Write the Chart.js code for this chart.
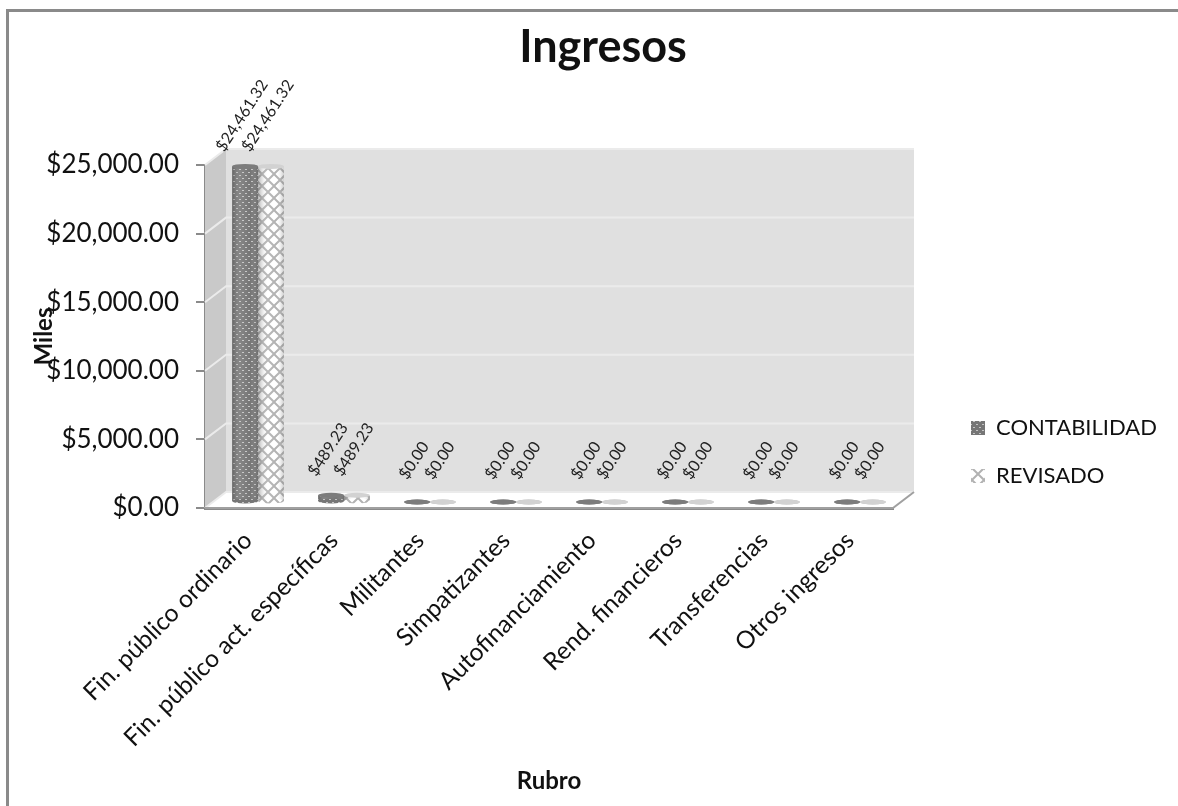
<!DOCTYPE html>
<html>
<head>
<meta charset="utf-8">
<title>Ingresos</title>
<script src="https://cdn.jsdelivr.net/npm/chart.js@4"></script>
<style>
html, body { margin: 0; padding: 0; background: #fff; }
canvas { display: block; }
</style>
</head>
<body>
<canvas id="ingresosChart" width="1178" height="806"></canvas>
<script>
var categories = ['Fin. público ordinario', 'Fin. público act. específicas', 'Militantes', 'Simpatizantes',
    'Autofinanciamiento', 'Rend. financieros', 'Transferencias', 'Otros ingresos'];
var contabilidad = [24461.32, 489.23, 0, 0, 0, 0, 0, 0];
var revisado = [24461.32, 489.23, 0, 0, 0, 0, 0, 0];
var seriesNames = ['CONTABILIDAD', 'REVISADO'];
var yTicks = [0, 5000, 10000, 15000, 20000, 25000];

var FONT = 'Lato, Carlito, sans-serif';
var DEPTH_X = 21, DEPTH_Y = 16;   // back wall offset
var BAR_X = 10, BAR_Y = -6;       // bars stand in the middle of the floor

function money(v) {
    return '$' + v.toLocaleString('en-US', { minimumFractionDigits: 2, maximumFractionDigits: 2 });
}

// fine dark mesh
function darkPattern(ctx) {
    var c = document.createElement('canvas');
    c.width = 6; c.height = 6;
    var p = c.getContext('2d');
    p.fillStyle = '#767676';
    p.fillRect(0, 0, 6, 6);
    p.fillStyle = '#c4c4c4';
    p.fillRect(1, 1, 2, 1);
    p.fillRect(4, 4, 2, 1);
    return ctx.createPattern(c, 'repeat');
}

// wide white lattice
function lightPattern(ctx) {
    var c = document.createElement('canvas');
    c.width = 12; c.height = 12;
    var p = c.getContext('2d');
    p.fillStyle = '#ffffff';
    p.fillRect(0, 0, 12, 12);
    p.strokeStyle = '#b2b2b2';
    p.lineWidth = 2;
    p.beginPath();
    p.moveTo(0, 0); p.lineTo(12, 12);
    p.moveTo(12, 0); p.lineTo(0, 12);
    p.stroke();
    return ctx.createPattern(c, 'repeat');
}

var framePlugin = {
    id: 'frame',
    afterLayout: function (chart) {
        var lg = chart.legend;
        lg.left = 945; lg.right = 1178;
        lg.top = 391; lg.bottom = 620;
        chart.titleBlock.left = 403;
        chart.titleBlock.right = 803;
    },
    beforeDraw: function (chart) {
        var c = chart.ctx;
        c.save();
        c.fillStyle = '#ffffff';
        c.fillRect(0, 0, chart.width, chart.height);
        c.strokeStyle = '#8a8a8a';
        c.lineWidth = 3;
        c.beginPath();
        c.moveTo(7.5, chart.height);
        c.lineTo(7.5, 10.5);
        c.lineTo(chart.width, 10.5);
        c.stroke();
        c.restore();
    },
    beforeDatasetsDraw: function (chart) {
        var c = chart.ctx, a = chart.chartArea, y = chart.scales.y;
        var l = a.left, r = a.right, t = a.top, b = a.bottom;
        c.save();
        // back wall
        c.fillStyle = '#e0e0e0';
        c.fillRect(l + DEPTH_X, t - DEPTH_Y, r - l, b - t);
        // left wall
        c.fillStyle = '#c9c9c9';
        c.beginPath();
        c.moveTo(l, t); c.lineTo(l + DEPTH_X, t - DEPTH_Y);
        c.lineTo(l + DEPTH_X, b - DEPTH_Y); c.lineTo(l, b);
        c.closePath(); c.fill();
        // floor
        c.fillStyle = '#ffffff';
        c.beginPath();
        c.moveTo(l, b); c.lineTo(l + DEPTH_X, b - DEPTH_Y);
        c.lineTo(r + DEPTH_X, b - DEPTH_Y); c.lineTo(r, b);
        c.closePath(); c.fill();
        // wall grid
        c.strokeStyle = '#ebebeb';
        c.lineWidth = 2;
        yTicks.forEach(function (v) {
            var py = y.getPixelForValue(v);
            c.beginPath();
            c.moveTo(l, py); c.lineTo(l + DEPTH_X, py - DEPTH_Y);
            c.lineTo(r + DEPTH_X, py - DEPTH_Y);
            c.stroke();
        });
        // floor edges
        c.strokeStyle = '#a0a0a0';
        c.lineWidth = 2;
        c.beginPath();
        c.moveTo(l, b); c.lineTo(r, b); c.lineTo(r + DEPTH_X, b - DEPTH_Y);
        c.stroke();
        c.restore();
    },
    beforeDatasetDraw: function (chart) {
        chart.ctx.save();
        chart.ctx.translate(BAR_X, BAR_Y);
    },
    afterDatasetDraw: function (chart, args) {
        var c = chart.ctx;
        var dark = args.index === 0;
        args.meta.data.forEach(function (bar) {
            var w = bar.width, x0 = bar.x - w / 2;
            var flat = bar.base - bar.y < 1;
            var ry = 2.5;
            // cylinder shading
            if (!flat) {
                var g = c.createLinearGradient(x0, 0, x0 + w, 0);
                g.addColorStop(0, 'rgba(70,70,70,0.4)');
                g.addColorStop(0.35, 'rgba(255,255,255,0.1)');
                g.addColorStop(0.7, 'rgba(255,255,255,0)');
                g.addColorStop(1, 'rgba(90,90,90,0.3)');
                c.fillStyle = g;
                c.fillRect(x0, bar.y, w, bar.base - bar.y);
            }
            // lower rim
            c.fillStyle = flat ? (dark ? '#7a7a7a' : '#bdbdbd') : bar.options.backgroundColor;
            c.beginPath();
            c.ellipse(bar.x, bar.base, w / 2, ry, 0, 0, Math.PI * 2);
            c.fill();
            // top cap
            c.fillStyle = dark ? '#7c7c7c' : '#d2d2d2';
            c.beginPath();
            c.ellipse(bar.x, bar.y, w / 2, ry, 0, 0, Math.PI * 2);
            c.fill();
        });
        c.restore();
    },
    afterDatasetsDraw: function (chart) {
        var c = chart.ctx;
        c.save();
        // value labels, rotated like the original
        c.font = '16px ' + FONT;
        c.fillStyle = '#222222';
        c.textAlign = 'center';
        c.textBaseline = 'middle';
        chart.data.datasets.forEach(function (ds, i) {
            chart.getDatasetMeta(i).data.forEach(function (bar, j) {
                var txt = money(ds.data[j]);
                var lift = 32 + 0.23 * c.measureText(txt).width;
                c.save();
                c.translate(bar.x + BAR_X - 3, bar.y + BAR_Y - lift);
                c.rotate(-Math.PI * 57 / 180);
                c.fillText(txt, 0, 0);
                c.restore();
            });
        });
        c.restore();
    }
};

var canvas = document.getElementById('ingresosChart');
var ctx = canvas.getContext('2d');

new Chart(ctx, {
    type: 'bar',
    plugins: [framePlugin],
    data: {
        labels: categories,
        datasets: [
            { label: seriesNames[0], data: contabilidad, backgroundColor: darkPattern(ctx), borderWidth: 0 },
            { label: seriesNames[1], data: revisado, backgroundColor: lightPattern(ctx), borderWidth: 0 }
        ]
    },
    options: {
        responsive: false,
        animation: false,
        devicePixelRatio: 1,
        categoryPercentage: 0.6,
        barPercentage: 1,
        layout: { padding: { left: 30, top: 17, right: 285, bottom: 10 } },
        scales: {
            x: {
                grid: { display: false },
                border: { color: '#8a8a8a', width: 3 },
                ticks: { color: '#111111', font: { family: FONT, size: 24.5 }, minRotation: 45, maxRotation: 45, padding: 10, autoSkip: false },
                title: { display: true, text: 'Rubro', color: '#111111', font: { family: FONT, size: 24, weight: 'bold' }, padding: 0 },
                afterFit: function (s) { s.height = 288; }
            },
            y: {
                min: 0,
                max: 25000,
                grid: { drawOnChartArea: false, color: '#8a8a8a', lineWidth: 2, tickLength: 9 },
                border: { color: '#8a8a8a', width: 3 },
                ticks: {
                    color: '#111111',
                    font: { family: FONT, size: 26 },
                    padding: 17,
                    stepSize: 5000,
                    callback: function (v) { return money(v); }
                },
                title: { display: true, text: 'Miles', color: '#111111', font: { family: FONT, size: 24, weight: 'bold' }, padding: 0 },
                afterFit: function (s) { s.width = 175; }
            }
        },
        plugins: {
            title: { display: true, text: 'Ingresos', color: '#111111', font: { family: FONT, size: 45, weight: 'bold' }, padding: { top: 3, bottom: 91 } },
            legend: {
                position: 'chartArea',
                align: 'start',
                labels: { color: '#111111', font: { family: FONT, size: 22 }, boxWidth: 14, boxHeight: 14, padding: 26 }
            },
            tooltip: { enabled: false }
        }
    }
});
</script>
</body>
</html>
